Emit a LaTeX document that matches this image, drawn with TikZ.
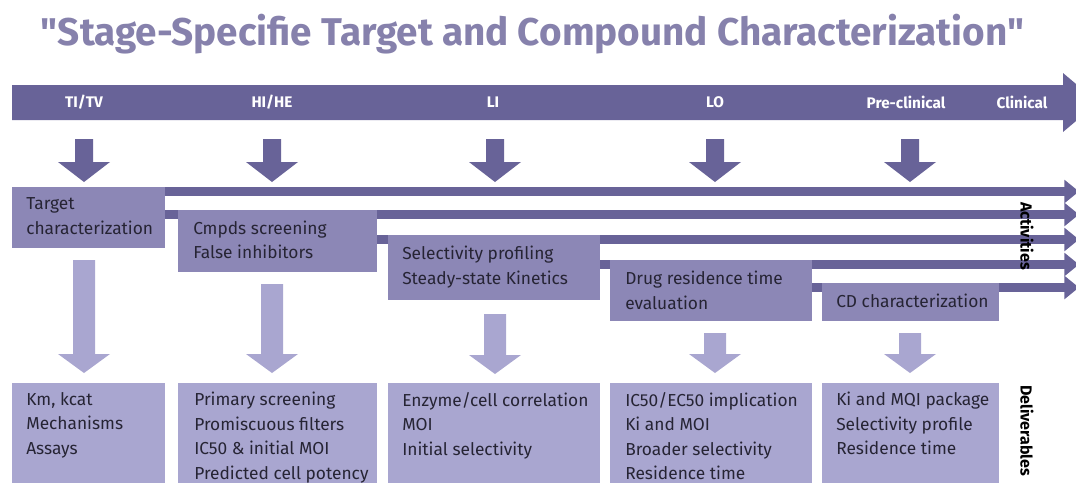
\documentclass[tikz,border=0pt]{standalone}
\usepackage{fontspec}
\setmainfont{Fira Sans}
% title face without TeX quote mapping, so straight quotes stay straight
\newfontfamily\titleface{Fira Sans}
\usetikzlibrary{arrows.meta,calc}
\definecolor{bandc}{RGB}{104,99,152}
\definecolor{actc}{RGB}{140,135,182}
\definecolor{delc}{RGB}{169,166,208}
\definecolor{titlec}{RGB}{134,129,172}
\definecolor{inkc}{RGB}{38,36,52}
\pgfdeclarelayer{bg}
\pgfsetlayers{bg,main}
% block arrow pointing down: colour, centre x, top, head start, tip, shaft half width
\newcommand\blockdown[6]{%
  \fill[#1] (#2-#6,#3) -- (#2+#6,#3) -- (#2+#6,#4) -- (#2+26,#4) -- (#2,#5)
            -- (#2-26,#4) -- (#2-#6,#4) -- cycle;}
\begin{document}
\begin{tikzpicture}[x=0.75pt,y=-0.75pt,
  actbox/.style={fill=actc,draw=none,inner sep=0pt,outer sep=0pt,anchor=north west},
  delbox/.style={fill=delc,draw=none,inner sep=0pt,outer sep=0pt,anchor=north west},
  boxtxt/.style={text=inkc,inner sep=0pt,anchor=north west,align=left,
    font=\fontsize{13pt}{18.4pt}\selectfont,execute at begin node=\strut},
  stagelbl/.style={text=white,font=\fontsize{11.5pt}{14pt}\selectfont\bfseries,inner sep=0pt},
  sidelbl/.style={text=black,font=\fontsize{12pt}{14pt}\selectfont\bfseries,inner sep=0pt,rotate=-90},
  actline/.style={draw=bandc,line width=6.75pt,-{Triangle[length=11pt,width=17pt]}}]
\useasboundingbox (0,0) rectangle (1076,483);

% title
\node[text=titlec,font=\titleface\fontsize{29pt}{33pt}\selectfont\bfseries,anchor=base,inner sep=0pt]
  (title) at (532.5,45) {"Stage-Specifie Target and Compound Characterization"};

% stage banner
\fill[bandc] (12,85) -- (1063,85) -- (1063,73) -- (1098,102.5) -- (1063,132)
  -- (1063,120) -- (12,120) -- cycle;
\node[stagelbl] (s1) at (84,102.5) {TI/TV};
\node[stagelbl] (s2) at (272,102.5) {HI/HE};
\node[stagelbl] (s3) at (493,102.5) {LI};
\node[stagelbl] (s4) at (715,102.5) {LO};
\node[stagelbl] (s5) at (906,102.5) {Pre-clinical};
\node[stagelbl] (s6) at (1022,102.5) {Clinical};

% stage-to-activity arrows
\foreach \cx in {84,272,495,715,910}{\blockdown{bandc}{\cx}{139}{162}{182}{9}}

% activity boxes
\node[actbox,minimum width={153*0.75pt},minimum height={61*0.75pt}] (A1) at (12,187) {};
\node[actbox,minimum width={199*0.75pt},minimum height={62*0.75pt}] (A2) at (178,210) {};
\node[actbox,minimum width={212*0.75pt},minimum height={65*0.75pt}] (A3) at (388,235) {};
\node[actbox,minimum width={202*0.75pt},minimum height={61*0.75pt}] (A4) at (610,260) {};
\node[actbox,minimum width={177*0.75pt},minimum height={38*0.75pt}] (A5) at (822,283) {};

\node[boxtxt] (a1t) at ($(A1.north west)+(14,10.5)$) {Target\\characterization};
\node[boxtxt] (a2t) at ($(A2.north west)+(15,10.5)$) {Cmpds screening\\False inhibitors};
\node[boxtxt] (a3t) at ($(A3.north west)+(14,11)$) {Selectivity profiling\\Steady-state Kinetics};
\node[boxtxt] (a4t) at ($(A4.north west)+(15,11)$) {Drug residence time\\evaluation};
\node[boxtxt,anchor=west] (a5t) at ($(A5.west)+(14,1)$) {CD characterization};

% activity lines running to the right edge
\coordinate (tipx) at (1079,0);
\begin{pgfonlayer}{bg}
\draw[actline] ($(A1.north east)+(0,4.5)$) -- ($(A1.north -| tipx)+(0,4.5)$);
\draw[actline] ($(A2.north -| A1.east)+(0,4.5)$) -- ($(A2.north -| tipx)+(0,4.5)$);
\draw[actline] ($(A3.north -| A2.east)+(0,4.5)$) -- ($(A3.north -| tipx)+(0,4.5)$);
\draw[actline] ($(A4.north -| A3.east)+(0,4.5)$) -- ($(A4.north -| tipx)+(0,4.5)$);
\draw[actline] ($(A5.north -| A4.east)+(0,4.5)$) -- ($(A5.north -| tipx)+(0,4.5)$);
\end{pgfonlayer}
\node[sidelbl] (act) at (1027,236) {Activities};

% activity-to-deliverable arrows
\blockdown{delc}{84}{260}{354}{373}{11}
\blockdown{delc}{272}{284}{354}{373}{11}
\blockdown{delc}{495}{314}{355}{374}{11}
\blockdown{delc}{715}{333}{354}{373}{11}
\blockdown{delc}{910}{333}{354}{373}{11}

% deliverable boxes
\node[delbox,minimum width={153*0.75pt},minimum height={100*0.75pt}] (D1) at (12,383) {};
\node[delbox,minimum width={199*0.75pt},minimum height={100*0.75pt}] (D2) at (178,383) {};
\node[delbox,minimum width={212*0.75pt},minimum height={100*0.75pt}] (D3) at (388,383) {};
\node[delbox,minimum width={202*0.75pt},minimum height={100*0.75pt}] (D4) at (610,383) {};
\node[delbox,minimum width={177*0.75pt},minimum height={100*0.75pt}] (D5) at (822,383) {};

\node[boxtxt] (d1t) at ($(D1.north west)+(14,9)$) {Km, kcat\\Mechanisms\\Assays};
\node[boxtxt] (d2t) at ($(D2.north west)+(16,9)$) {Primary screening\\Promiscuous filters\\IC50 \& initial MOI\\Predicted cell potency};
\node[boxtxt] (d3t) at ($(D3.north west)+(14,9)$) {Enzyme/cell correlation\\MOI\\Initial selectivity};
\node[boxtxt] (d4t) at ($(D4.north west)+(15,9)$) {IC50/EC50 implication\\Ki and MOI\\Broader selectivity\\Residence time};
\node[boxtxt] (d5t) at ($(D5.north west)+(14,9)$) {Ki and MQI package\\Selectivity profile\\Residence time};

\node[sidelbl,anchor=west] (dlv) at (1027,385) {Deliverables};
\end{tikzpicture}
\end{document}
